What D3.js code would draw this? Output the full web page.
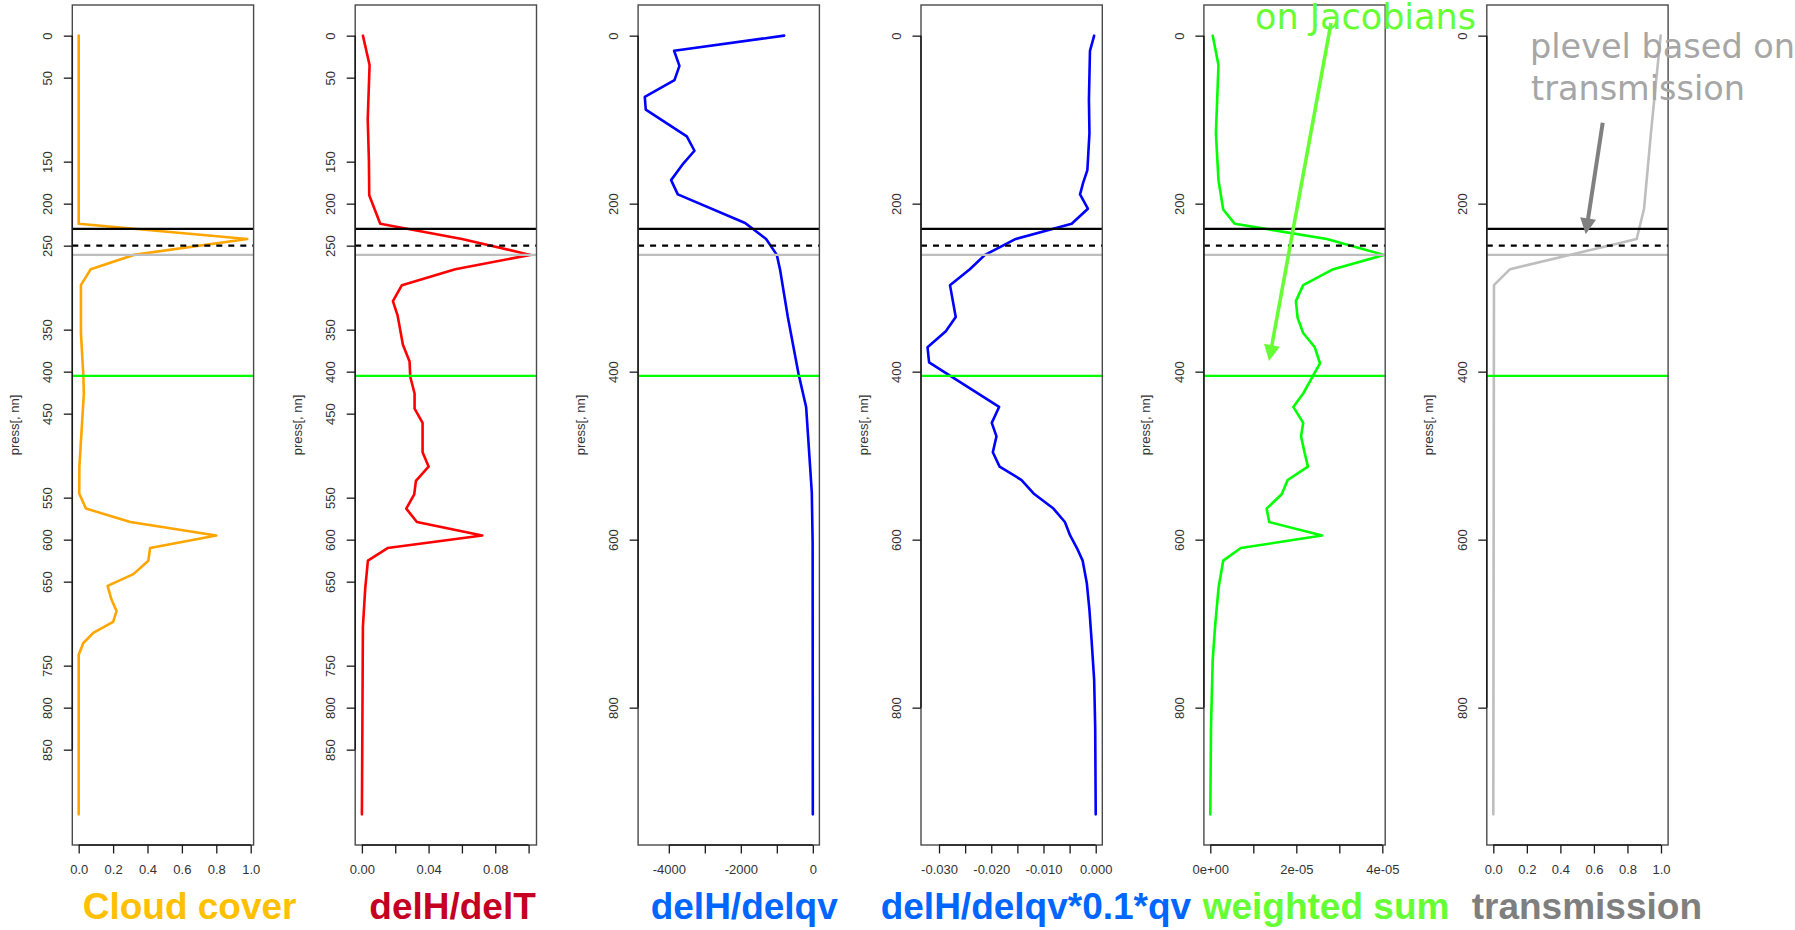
<!DOCTYPE html>
<html>
<head>
<meta charset="utf-8">
<script src="https://cdn.jsdelivr.net/npm/d3@7"></script>
<style>
  html, body { margin: 0; padding: 0; background: #ffffff; }
  svg { display: block; }
</style>
</head>
<body>
<svg id="chart" width="1795" height="930"></svg>
<script>
// ---------------------------------------------------------------
// Vertical profiles against model pressure (press[, nn])
// ---------------------------------------------------------------

// Pressure axis ticks
const pressTicksDense  = [0, 50, 150, 200, 250, 350, 400, 450, 550, 600, 650, 750, 800, 850];
const pressTicksSparse = [0, 200, 400, 600, 800];

// Reference pressure levels drawn across every panel
const refLevels = [230, 250, 261, 405];

// Cloud cover
const cloudPress = [0, 224, 242, 261, 278, 297, 354, 405, 426, 513, 545, 563, 579, 595, 610, 625, 641, 655, 671, 685, 698, 711, 723, 737, 927];
const cloudCover = [0.0, 0.0, 0.98, 0.32, 0.07, 0.013, 0.013, 0.027, 0.03, 0.004, 0.003, 0.042, 0.30, 0.80, 0.415, 0.405, 0.318, 0.168, 0.19, 0.22, 0.20, 0.085, 0.027, 0.0, 0.0];

// delH/delT
const delTPress = [0, 35, 100, 148, 190, 224, 242, 261, 278, 297, 316, 333, 368, 388, 406, 426, 444, 461, 496, 513, 530, 546, 563, 579, 595, 610, 625, 658, 704, 927];
const delT      = [0.0006, 0.0046, 0.0035, 0.0042, 0.0044, 0.011, 0.060, 0.101, 0.056, 0.024, 0.0186, 0.0214, 0.0246, 0.0286, 0.029, 0.0316, 0.0316, 0.0364, 0.0364, 0.040, 0.0324, 0.0314, 0.0266, 0.033, 0.0722, 0.0154, 0.0036, 0.002, 0.0006, 0.0];

// delH/delqv
const delqvPress = [0, 18, 36, 53, 73, 88, 120, 137, 152, 172, 189, 223, 242, 261, 279, 335, 402, 442, 513, 544, 604, 927];
const delqv      = [-797, -3853, -3705, -3843, -4667, -4640, -3500, -3287, -3593, -3936, -3750, -1880, -1297, -1000, -908, -694, -400, -186, -75, -28, -5, 0];

// delH/delqv*0.1*qv
const scaledPress = [0, 18, 76, 116, 160, 175, 189, 206, 224, 242, 261, 278, 297, 335, 352, 371, 389, 442, 461, 477, 496, 513, 529, 545, 563, 579, 595, 610, 625, 652, 684, 719, 767, 823, 927];
const scaledQv    = [-0.0003, -0.0011, -0.0013, -0.0012, -0.0016, -0.0024, -0.0030, -0.0015, -0.0046, -0.0153, -0.0212, -0.0241, -0.0279, -0.0268, -0.0287, -0.0322, -0.0319, -0.0185, -0.0199, -0.0190, -0.0197, -0.0184, -0.0142, -0.0119, -0.0081, -0.0059, -0.0049, -0.0036, -0.0025, -0.0017, -0.0012, -0.0008, -0.0003, -0.0001, 0.0];

// weighted sum
const wsumPress = [0, 35, 76, 116, 172, 207, 224, 242, 261, 278, 297, 316, 336, 354, 371, 390, 426, 442, 461, 477, 496, 513, 529, 546, 563, 579, 595, 610, 625, 656, 700, 743, 823, 927];
const wsum      = [5.6e-7, 1.9e-6, 1.6e-6, 1.3e-6, 1.9e-6, 3.0e-6, 5.7e-6, 2.71e-5, 4.04e-5, 2.86e-5, 2.16e-5, 1.99e-5, 2.03e-5, 2.16e-5, 2.43e-5, 2.55e-5, 2.16e-5, 1.93e-5, 2.16e-5, 2.11e-5, 2.19e-5, 2.27e-5, 1.80e-5, 1.66e-5, 1.31e-5, 1.37e-5, 2.60e-5, 7.1e-6, 3.0e-6, 1.95e-6, 1.16e-6, 5.6e-7, 1.6e-7, 0.0];

// transmission
const transPress = [0, 116, 206, 242, 278, 297, 927];
const trans      = [0.998, 0.94, 0.899, 0.855, 0.10, 0.004, 0.0];

// Bottom-axis ticks and their labels ("" = tick without label)
const cloudTicks  = [0, 0.2, 0.4, 0.6, 0.8, 1.0];
const cloudLabels = ["0.0", "0.2", "0.4", "0.6", "0.8", "1.0"];
const delTTicks   = [0, 0.02, 0.04, 0.06, 0.08, 0.10];
const delTLabels  = ["0.00", "", "0.04", "", "0.08", ""];
const delqvTicks  = [-4000, -3000, -2000, -1000, 0];
const delqvLabels = ["-4000", "", "-2000", "", "0"];
const scaledTicks  = [-0.030, -0.025, -0.020, -0.015, -0.010, -0.005, 0];
const scaledLabels = ["-0.030", "", "-0.020", "", "-0.010", "", "0.000"];
const wsumTicks   = [0, 1e-5, 2e-5, 3e-5, 4e-5];
const wsumLabels  = ["0e+00", "", "2e-05", "", "4e-05"];
const transTicks  = [0, 0.2, 0.4, 0.6, 0.8, 1.0];
const transLabels = ["0.0", "0.2", "0.4", "0.6", "0.8", "1.0"];

// Panel titles under each profile
const titles = ["Cloud cover", "delH/delT", "delH/delqv", "delH/delqv*0.1*qv", "weighted sum", "transmission"];

// ---------------------------------------------------------------
// Layout and styling
// ---------------------------------------------------------------
const W = 1795, H = 930;
const plotTop = 5, plotBottom = 845;
const panelLeft0 = 72.3, panelStep = 282.9, panelWidth = 181.3;
const yDomain = [-36.5, 963.5];

const refStyles = [
  { color: "#000000", dash: null },
  { color: "#000000", dash: "6,6" },
  { color: "#BEBEBE", dash: null },
  { color: "#00FF00", dash: null }
];

const titleStyle = [
  { x: 82.7,   color: "#FFC000" },
  { x: 369.3,  color: "#C50023" },
  { x: 650.7,  color: "#0066FF" },
  { x: 880.7,  color: "#0066FF" },
  { x: 1202.7, color: "#66FF33" },
  { x: 1471.7, color: "#7F7F7F" }
];

const panels = [
  { press: cloudPress,  values: cloudCover, color: "#FFA500", xDomain: [-0.0372, 1.0169],   ticks: cloudTicks,  labels: cloudLabels,  yTicks: pressTicksDense },
  { press: delTPress,   values: delT,       color: "#FF0000", xDomain: [-0.00402, 0.10474], ticks: delTTicks,   labels: delTLabels,   yTicks: pressTicksDense },
  { press: delqvPress,  values: delqv,      color: "#0000FF", xDomain: [-4853, 183],        ticks: delqvTicks,  labels: delqvLabels,  yTicks: pressTicksSparse },
  { press: scaledPress, values: scaledQv,   color: "#0000FF", xDomain: [-0.03345, 0.00126], ticks: scaledTicks, labels: scaledLabels, yTicks: pressTicksSparse },
  { press: wsumPress,   values: wsum,       color: "#00FF00", xDomain: [-1.49e-6, 4.067e-5], ticks: wsumTicks,  labels: wsumLabels,   yTicks: pressTicksSparse },
  { press: transPress,  values: trans,      color: "#BEBEBE", xDomain: [-0.0388, 1.0424],   ticks: transTicks,  labels: transLabels,  yTicks: pressTicksSparse }
];

const axisFont = "'Liberation Sans', Arial, Helvetica, sans-serif";
const handFont = "'DejaVu Sans', sans-serif";

const svg = d3.select("#chart").attr("viewBox", `0 0 ${W} ${H}`);
svg.append("rect").attr("width", W).attr("height", H).attr("fill", "#ffffff");

const y = d3.scaleLinear().domain(yDomain).range([plotTop, plotBottom]);

panels.forEach((pn, i) => {
  const left = panelLeft0 + i * panelStep;
  const right = left + panelWidth;
  const x = d3.scaleLinear().domain(pn.xDomain).range([left, right]);
  const g = svg.append("g").attr("class", "panel");

  // profile curve
  const pts = pn.press.map((p, k) => ({ p: p, v: pn.values[k] }));
  g.append("path")
    .datum(pts)
    .attr("fill", "none")
    .attr("stroke", pn.color)
    .attr("stroke-width", 2.6)
    .attr("stroke-linejoin", "round")
    .attr("stroke-linecap", "round")
    .attr("d", d3.line().x(d => x(d.v)).y(d => y(d.p)));

  // reference pressure levels
  refLevels.forEach((lv, k) => {
    g.append("line")
      .attr("x1", left).attr("x2", right)
      .attr("y1", y(lv)).attr("y2", y(lv))
      .attr("stroke", refStyles[k].color)
      .attr("stroke-width", 2.4)
      .attr("stroke-dasharray", refStyles[k].dash);
  });

  // plot frame
  g.append("rect")
    .attr("x", left).attr("y", plotTop)
    .attr("width", panelWidth).attr("height", plotBottom - plotTop)
    .attr("fill", "none").attr("stroke", "#4a4a4a").attr("stroke-width", 1.4);

  // bottom axis
  const xAxis = d3.axisBottom(x)
    .tickValues(pn.ticks)
    .tickFormat((d, k) => pn.labels[k])
    .tickSize(8.5).tickPadding(11.5).tickSizeOuter(0);
  const gx = g.append("g").attr("transform", `translate(0,${plotBottom})`).call(xAxis);
  gx.select(".domain").remove();
  gx.selectAll(".tick line").attr("stroke", "#1a1a1a").attr("stroke-width", 1.3);
  gx.selectAll(".tick text").attr("font-family", axisFont).attr("font-size", 13).attr("fill", "#333");
  g.append("line")
    .attr("x1", x(pn.ticks[0])).attr("x2", x(pn.ticks[pn.ticks.length - 1]))
    .attr("y1", plotBottom).attr("y2", plotBottom)
    .attr("stroke", "#1a1a1a").attr("stroke-width", 1.5);

  // left axis with rotated labels
  const yAxis = d3.axisLeft(y).tickValues(pn.yTicks).tickFormat(d3.format("d")).tickSize(8.5).tickSizeOuter(0);
  const gy = g.append("g").attr("transform", `translate(${left},0)`).call(yAxis);
  gy.select(".domain").remove();
  gy.selectAll(".tick line").attr("stroke", "#1a1a1a").attr("stroke-width", 1.3);
  gy.selectAll(".tick text")
    .attr("x", null).attr("dy", null)
    .attr("text-anchor", "middle")
    .attr("transform", "translate(-20,0) rotate(-90)")
    .attr("font-family", axisFont).attr("font-size", 13).attr("fill", "#333");
  g.append("line")
    .attr("x1", left).attr("x2", left)
    .attr("y1", y(pn.yTicks[0])).attr("y2", y(pn.yTicks[pn.yTicks.length - 1]))
    .attr("stroke", "#1a1a1a").attr("stroke-width", 1.5);

  // axis title
  g.append("text")
    .attr("transform", `translate(${left - 53.5},${(plotTop + plotBottom) / 2}) rotate(-90)`)
    .attr("text-anchor", "middle")
    .attr("font-family", axisFont).attr("font-size", 13).attr("fill", "#333")
    .text("press[, nn]");

  // panel title
  svg.append("text")
    .attr("x", titleStyle[i].x).attr("y", 919)
    .attr("font-family", axisFont).attr("font-weight", "bold").attr("font-size", 37)
    .attr("fill", titleStyle[i].color)
    .text(titles[i]);
});

// ---------------------------------------------------------------
// Hand-drawn annotations
// ---------------------------------------------------------------
function arrow(x1, y1, x2, y2, color, width, headLen, headHalf) {
  const dx = x2 - x1, dy = y2 - y1, len = Math.hypot(dx, dy);
  const ux = dx / len, uy = dy / len;
  const bx = x2 - ux * headLen, by = y2 - uy * headLen;
  svg.append("line")
    .attr("x1", x1).attr("y1", y1).attr("x2", bx + ux * 2).attr("y2", by + uy * 2)
    .attr("stroke", color).attr("stroke-width", width).attr("stroke-linecap", "butt");
  svg.append("path")
    .attr("d", d3.line()([[x2, y2], [bx - uy * headHalf, by + ux * headHalf], [bx + uy * headHalf, by - ux * headHalf]]) + "Z")
    .attr("fill", color);
}

svg.append("text")
  .attr("x", 1255).attr("y", 29)
  .attr("font-family", handFont).attr("font-size", 35).attr("fill", "#66FF33")
  .text("on Jacobians");
arrow(1331, 23, 1269, 361, "#66FF33", 3.6, 16, 8);

svg.append("text")
  .attr("x", 1530).attr("y", 58)
  .attr("font-family", handFont).attr("font-size", 33.5).attr("fill", "#A6A6A6")
  .text("plevel based on");
svg.append("text")
  .attr("x", 1531).attr("y", 100)
  .attr("font-family", handFont).attr("font-size", 33.5).attr("fill", "#A6A6A6")
  .text("transmission");
arrow(1602.7, 122.7, 1585.7, 234.3, "#808080", 4, 16, 8);
</script>
</body>
</html>
